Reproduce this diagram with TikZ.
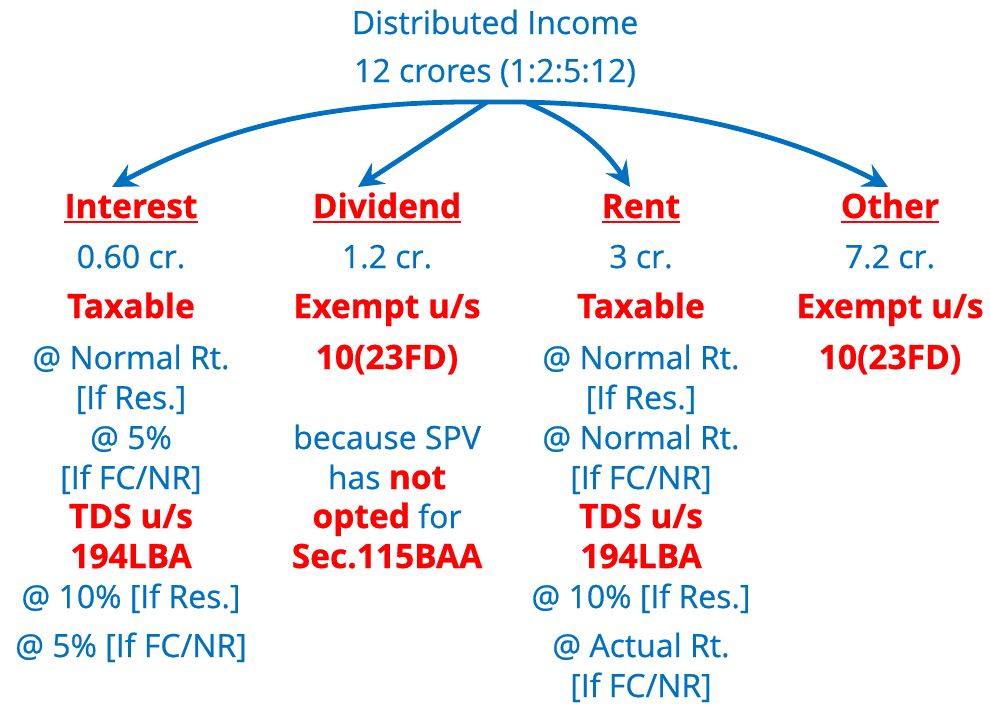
\documentclass[tikz,border=0pt]{standalone}
\usepackage{fontspec}
\setmainfont{Open Sans}
\newfontfamily\blfont[FakeBold=0.6]{Open Sans}
\newfontfamily\rdfont[FakeBold=0.8]{Open Sans Bold}
\usetikzlibrary{arrows.meta}
\definecolor{tblue}{HTML}{0070C0}
\definecolor{tred}{HTML}{FF0000}
\begin{document}
\begin{tikzpicture}[x=1pt,y=-1pt,
  bl/.style={anchor=base,inner sep=0pt,text=tblue,font=\blfont\fontsize{32}{40}\selectfont},
  rd/.style={anchor=base,inner sep=0pt,text=tred,font=\rdfont\fontsize{33.5}{40}\selectfont},
  ul/.style={draw=tred,line width=2.2pt},
  arr/.style={draw=tblue,line width=4.8pt,-{Stealth[length=25pt,width=25pt,inset=9pt]}}]
\useasboundingbox (0,0) rectangle (990,705);
% title
\node[bl] (t1) at (495,34) {Distributed Income};
\node[bl] (t2) at (495,82) {12 crores (1:2:5:12)};
% headers
\node[rd] (hi) at (131,218) {Interest};
\node[rd] (hd) at (387,218) {Dividend};
\node[rd] (hr) at (641,218) {Rent};
\node[rd] (ho) at (890,218) {Other};
\foreach \n in {hi,hd,hr,ho}
  \draw[ul] ([yshift=-3.5pt]\n.south west) -- ([yshift=-3.5pt]\n.south east);
% interest column
\node[bl] (i1) at (131,268) {0.60 cr.};
\node[rd] (i2) at (131,318) {Taxable};
\node[bl] (i3) at (131,369) {@ Normal Rt.};
\node[bl] (i4) at (131,409) {[If Res.]};
\node[bl] (i5) at (131,449) {@ 5\%};
\node[bl] (i6) at (131,489) {[If FC/NR]};
\node[rd] (i7) at (131,528) {TDS u/s};
\node[rd] (i8) at (131,568) {194LBA};
\node[bl] (i9) at (131,608) {@ 10\% [If Res.]};
\node[bl] (i10) at (131,657) {@ 5\% [If FC/NR]};
% dividend column
\node[bl] (d1) at (387,268) {1.2 cr.};
\node[rd] (d2) at (387,318) {Exempt u/s};
\node[rd] (d3) at (387,369) {10(23FD)};
\node[bl] (d4) at (387,449) {because SPV};
\node[bl] (d5) at (387,489) {has \textcolor{tred}{\rdfont\fontsize{33.5}{40}\selectfont not}};
\node[bl] (d6) at (387,528) {\textcolor{tred}{\rdfont\fontsize{33.5}{40}\selectfont opted} for};
\node[rd] (d7) at (387,568) {Sec.115BAA};
% rent column
\node[bl] (r1) at (641,268) {3 cr.};
\node[rd] (r2) at (641,318) {Taxable};
\node[bl] (r3) at (641,369) {@ Normal Rt.};
\node[bl] (r4) at (641,409) {[If Res.]};
\node[bl] (r5) at (641,449) {@ Normal Rt.};
\node[bl] (r6) at (641,489) {[If FC/NR]};
\node[rd] (r7) at (641,528) {TDS u/s};
\node[rd] (r8) at (641,568) {194LBA};
\node[bl] (r9) at (641,608) {@ 10\% [If Res.]};
\node[bl] (r10) at (641,657) {@ Actual Rt.};
\node[bl] (r11) at (641,697) {[If FC/NR]};
% other column
\node[bl] (o1) at (890,268) {7.2 cr.};
\node[rd] (o2) at (890,318) {Exempt u/s};
\node[rd] (o3) at (890,369) {10(23FD)};
% arrows
\coordinate (s) at (487,102);
\coordinate (sr) at (527,103);
\coordinate (ai) at (112,187);
\coordinate (ad) at (358,187);
\coordinate (ar) at (630,187);
\coordinate (ao) at (888,187);
\draw[arr] (s) .. controls (300,100) and (200,140) .. (ai);
\draw[arr] (s) -- (ad);
\draw[arr] (sr) .. controls (580,125) and (605,150) .. (ar);
\draw[arr] (s) .. controls (650,100) and (780,130) .. (ao);
\end{tikzpicture}
\end{document}
